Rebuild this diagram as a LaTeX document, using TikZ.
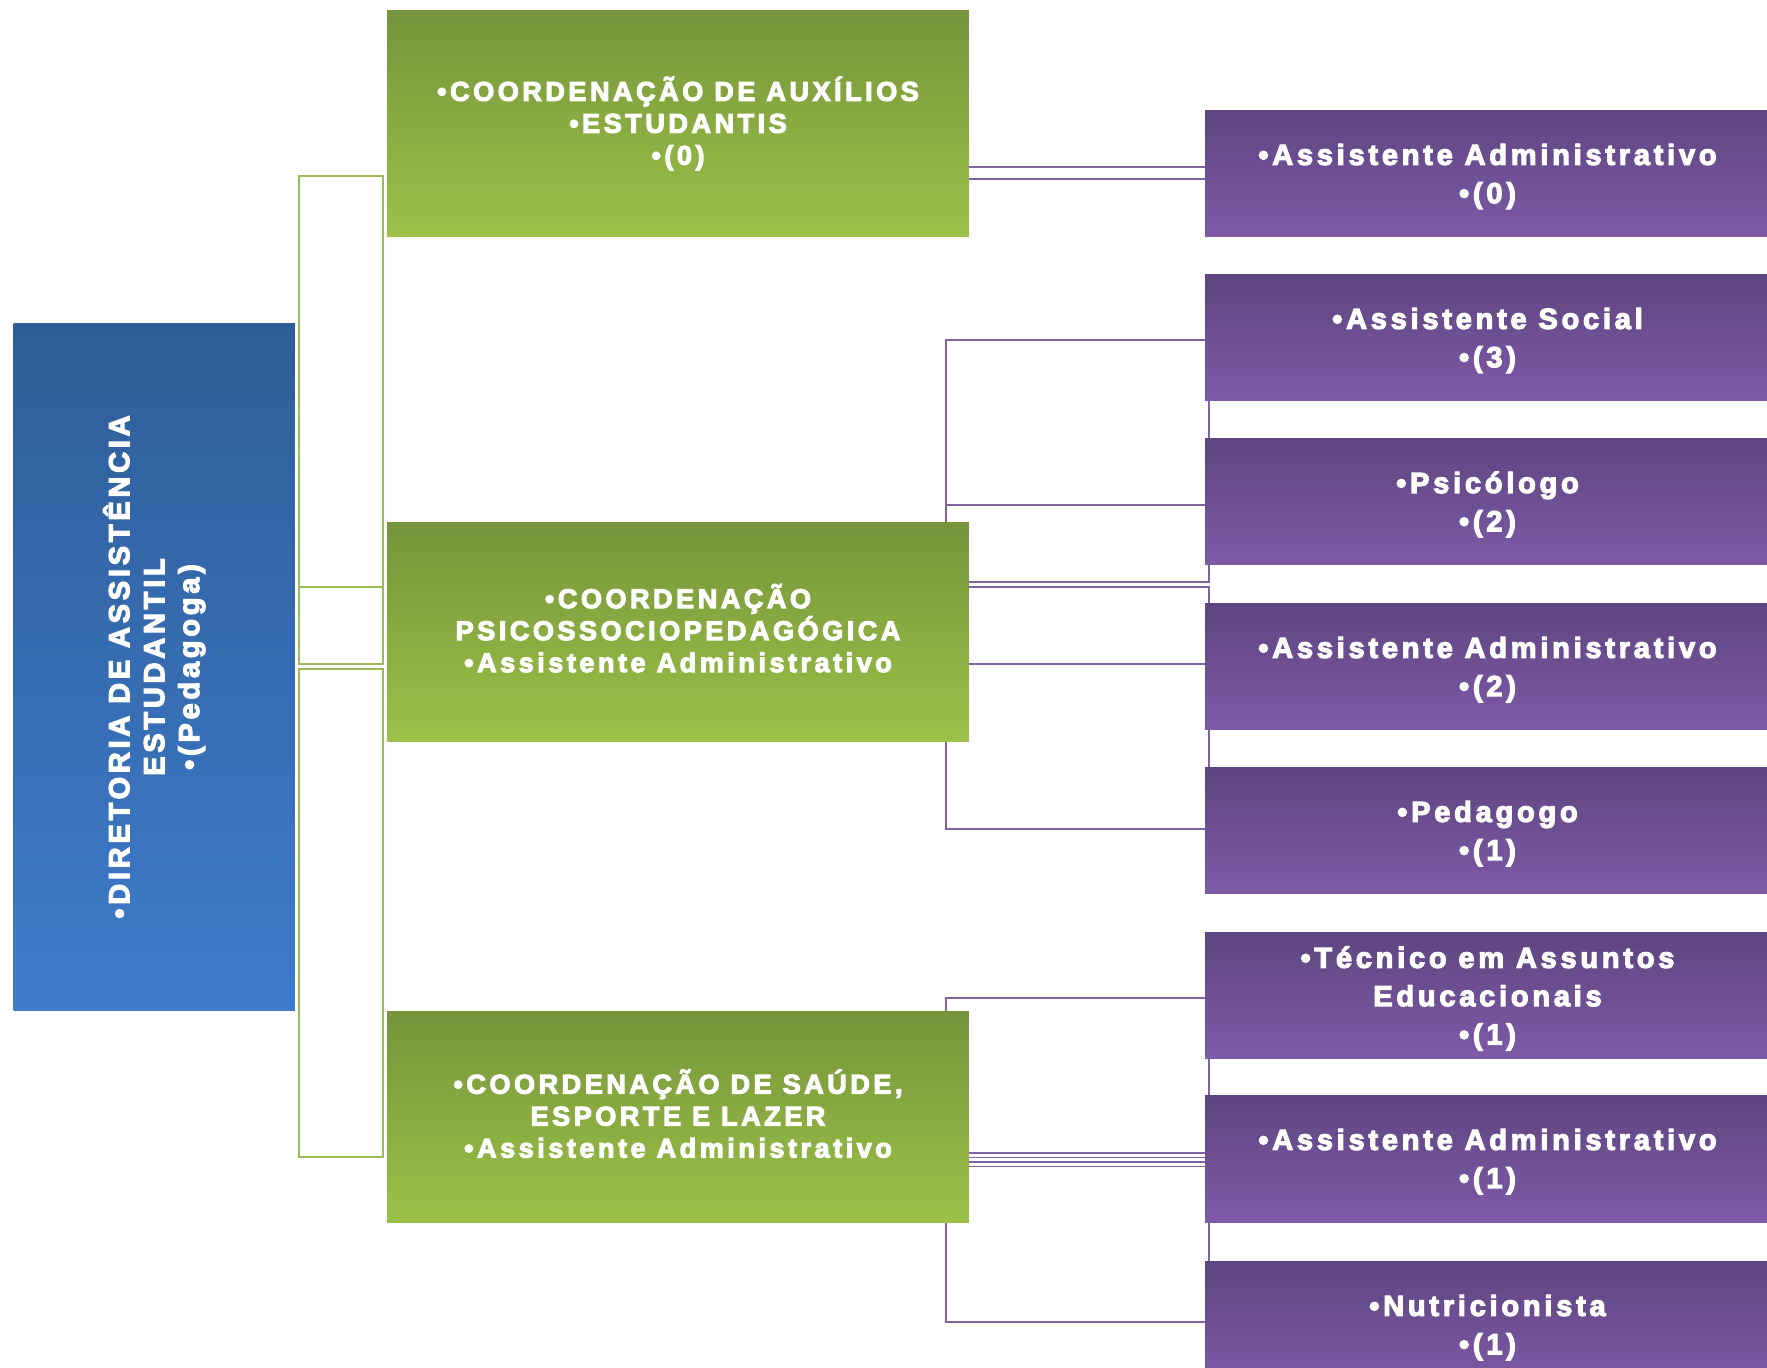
\documentclass[tikz,border=0pt]{standalone}
\usepackage{fontspec}
\newfontfamily\lab{Liberation Sans}[UprightFont=* Bold, BoldFont=* Bold, LetterSpace=13, FakeBold=4]
\usetikzlibrary{backgrounds}
\definecolor{bluedark}{RGB}{46,94,152}
\definecolor{bluelight}{RGB}{62,123,203}
\definecolor{greendark}{RGB}{118,148,58}
\definecolor{greenlight}{RGB}{156,194,72}
\definecolor{purpdark}{RGB}{94,69,128}
\definecolor{purplight}{RGB}{126,90,167}
\definecolor{pline}{RGB}{128,100,162}
\definecolor{gline}{RGB}{155,187,89}
\tikzset{
  box/.style={inner sep=0pt, outer sep=0pt, align=center, text=white},
  bluebox/.style={box, rotate=90, minimum width=13.76cm, minimum height=5.63cm,
    top color=bluedark, bottom color=bluelight,
    font=\lab\fontsize{16.5}{19.9}\selectfont},
  greenbox/.style={box, minimum width=11.64cm, top color=greendark, bottom color=greenlight,
    font=\lab\fontsize{15.4}{18.2}\selectfont},
  purplebox/.style={box, minimum width=11.30cm, minimum height=2.54cm, text depth=0pt,
    top color=purpdark, bottom color=purplight,
    font=\lab\fontsize{16.5}{21.8}\selectfont},
  pconn/.style={draw=pline, line width=1.1pt},
  gconn/.style={draw=gline, line width=1.1pt},
}
\begin{document}
\begin{tikzpicture}[x=0.02cm, y=-0.02cm]
\useasboundingbox (0,0) rectangle (1767,1368);
\clip (0,0) rectangle (1767,1368);

\node[bluebox] (dir) at (154.25,667) {•DIRETORIA DE ASSISTÊNCIA\\ESTUDANTIL\\•(Pedagoga)};

\node[greenbox, minimum height=4.54cm] (g1) at (678,123.5) {•COORDENAÇÃO DE AUXÍLIOS\\•ESTUDANTIS\\•(0)};
\node[greenbox, minimum height=4.40cm, text depth=4.5pt] (g2) at (678,632) {•COORDENAÇÃO\\PSICOSSOCIOPEDAGÓGICA\\•Assistente Administrativo};
\node[greenbox, minimum height=4.24cm, text depth=4pt] (g3) at (678,1117) {•COORDENAÇÃO DE SAÚDE,\\ESPORTE E LAZER\\•Assistente Administrativo};

\node[purplebox] (p1) at (1487.5,173.5) {•Assistente Administrativo\\•(0)};
\node[purplebox] (p2) at (1487.5,337.5) {•Assistente Social\\•(3)};
\node[purplebox] (p3) at (1487.5,501.5) {•Psicólogo\\•(2)};
\node[purplebox] (p4) at (1487.5,666.5) {•Assistente Administrativo\\•(2)};
\node[purplebox] (p5) at (1487.5,830.5) {•Pedagogo\\•(1)};
\node[purplebox] (p6) at (1487.5,995.5) {•Técnico em Assuntos\\Educacionais\\•(1)};
\node[purplebox] (p7) at (1487.5,1158.5) {•Assistente Administrativo\\•(1)};
\node[purplebox] (p8) at (1487.5,1324.5) {•Nutricionista\\•(1)};

\begin{pgfonlayer}{background}
\fill[white] (0,0) rectangle (1767,1368);
% green connectors from the directorate to the coordinations
\path (dir.south) ++(4,0) coordinate (gl);
\path (g1.west) ++(-4,0) coordinate (gr);
\draw[gconn] (gl |- 0,176) rectangle (gr |- 0,587);
\draw[gconn] (gl |- 0,587) rectangle (gr |- 0,664);
\draw[gconn] (gl |- 0,669) rectangle (gr |- 0,1157);

% coordination 1
\draw[pconn] (g1.east |- 0,167) -- (p1.west |- 0,167);
\draw[pconn] (g1.east |- 0,179) -- (p1.west |- 0,179);

% coordination 2
\draw[pconn] (p2.west |- 0,340) -- (946,340) -- (946,829) -- (p5.west |- 0,829);
\draw[pconn] (946,505) -- (p3.west |- 0,505);
\draw[pconn] (g2.east |- 0,664) -- (p4.west |- 0,664);
\draw[pconn] (1209,401) -- (1209,438);
\draw[pconn] (1209,565) -- (1209,582) -- (g2.east |- 0,582);
\draw[pconn] (g2.east |- 0,587) -- (1209,587) -- (1209,603);
\draw[pconn] (1209,730) -- (1209,767);

% coordination 3
\draw[pconn] (p6.west |- 0,998) -- (946,998) -- (946,1322) -- (p8.west |- 0,1322);
\foreach \yy in {1153,1157.5,1162,1166.5}
  \draw[pconn, line width=0.9pt] (g3.east |- 0,\yy) -- (p7.west |- 0,\yy);
\draw[pconn] (1209,1058) -- (1209,1095);
\draw[pconn] (1209,1223) -- (1209,1261);
\end{pgfonlayer}
\end{tikzpicture}
\end{document}
